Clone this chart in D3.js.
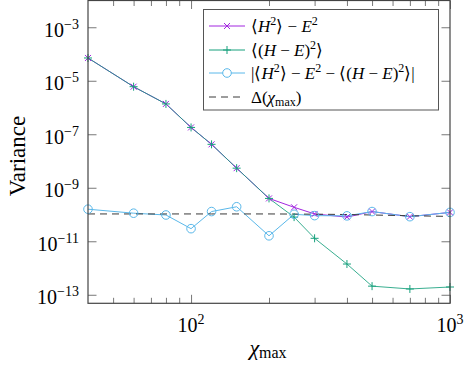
<!DOCTYPE html>
<html><head><meta charset="utf-8">
<script src="https://cdn.jsdelivr.net/npm/d3@7"></script>
<style>
body{margin:0;background:#fff}
svg{display:block}
</style>
</head><body>
<svg id="c" width="475" height="365"></svg>
<script>
// ---- data ----
const chi = [40, 60, 80, 100, 120, 150, 200, 250, 300, 400, 500, 700, 1000];
const varH2mE2 = [7.1e-5, 6.0e-6, 1.36e-6, 1.8e-7, 4.2e-8, 5.4e-9, 4.0e-10, 1.86e-10, 1.05e-10, 8.0e-11, 1.29e-10, 8.3e-11, 1.2e-10];
const varHmE2 = [7.1e-5, 6.0e-6, 1.36e-6, 1.8e-7, 4.2e-8, 5.4e-9, 4.0e-10, 8.0e-11, 1.29e-11, 1.41e-12, 2.1e-13, 1.65e-13, 1.95e-13];
const varDiff = [1.58e-10, 1.12e-10, 9.6e-11, 2.96e-11, 1.29e-10, 1.95e-10, 1.6e-11, 1.02e-10, 9.1e-11, 8.9e-11, 1.29e-10, 8.3e-11, 1.2e-10];
const delta = [1.05e-10, 1.05e-10, 1.05e-10, 1.05e-10, 1.05e-10, 1.05e-10, 1.05e-10, 1.04e-10, 1.03e-10, 1.0e-10, 9.6e-11, 9.0e-11, 8.5e-11];
const xMajor = [100, 1000];
const xMinor = [50, 60, 70, 80, 90, 200, 300, 400, 500, 600, 700, 800, 900];
const yMajor = [1e-13, 1e-11, 1e-9, 1e-7, 1e-5, 1e-3];
const xTickLabels = ["2", "3"];
const yTickLabels = ["−13", "−11", "−9", "−7", "−5", "−3"];

const colPurple = "#a226e0", colGreen = "#16a07c", colCyan = "#5ab8ea", colDash = "#3a3a3a";
const FONT = "'Liberation Serif', serif";

const L = 88, R = 450, T = 0.5, B = 303.3;
const x = d3.scaleLog().domain([40, 1000]).range([L, R]);
const y = d3.scaleLog().domain([4.8e-14, 1e-2]).range([B, T]);
const svg = d3.select("#c");

// ---- ticks (inward, all four sides) ----
function styleAxis(g) {
  g.select(".domain").remove();
  g.selectAll(".tick line").attr("stroke", "#555").attr("stroke-width", 0.8);
  g.selectAll(".tick text").remove();
}
const maj = 8.5, mnr = 5.5;
svg.append("g").attr("transform", `translate(0,${B})`).call(d3.axisBottom(x).tickValues(xMajor).tickSize(-maj)).call(styleAxis);
svg.append("g").attr("transform", `translate(0,${B})`).call(d3.axisBottom(x).tickValues(xMinor).tickSize(-mnr)).call(styleAxis);
svg.append("g").attr("transform", `translate(0,${T})`).call(d3.axisTop(x).tickValues(xMajor).tickSize(-maj)).call(styleAxis);
svg.append("g").attr("transform", `translate(0,${T})`).call(d3.axisTop(x).tickValues(xMinor).tickSize(-mnr)).call(styleAxis);
svg.append("g").attr("transform", `translate(${L},0)`).call(d3.axisLeft(y).tickValues(yMajor).tickSize(-maj)).call(styleAxis);
svg.append("g").attr("transform", `translate(${R},0)`).call(d3.axisRight(y).tickValues(yMajor).tickSize(-maj)).call(styleAxis);

function txt(sel) { return sel.append("text").attr("font-family", FONT).attr("fill", "#000"); }

// ---- tick labels ----
xMajor.forEach((v, i) => {
  const t = txt(svg).attr("x", x(v)).attr("y", 332).attr("text-anchor", "middle").attr("font-size", 20);
  t.append("tspan").text("10");
  t.append("tspan").attr("font-size", 14).attr("dy", -8).text(xTickLabels[i]);
});
yMajor.forEach((v, i) => {
  const t = txt(svg).attr("x", 79).attr("y", y(v) + 9.5).attr("text-anchor", "end").attr("font-size", 20);
  t.append("tspan").text("10");
  t.append("tspan").attr("font-size", 14).attr("dy", -8).text(yTickLabels[i]);
});

// ---- axis labels ----
const xl = txt(svg).attr("x", 268).attr("y", 355).attr("text-anchor", "middle").attr("font-size", 22);
xl.append("tspan").attr("font-style", "italic").text("χ");
xl.append("tspan").attr("font-size", 16).attr("dy", 3).text("max");
txt(svg).attr("transform", "translate(25,156) rotate(-90)").attr("text-anchor", "middle").attr("font-size", 23).text("Variance");

// ---- series ----
const line = d3.line().x(d => x(d[0])).y(d => y(d[1]));
const zip = vals => chi.map((c, i) => [c, vals[i]]);

function crossPath(s) { return `M${-s},${-s}L${s},${s}M${-s},${s}L${s},${-s}`; }
function plusPath(s) { return `M${-s},0L${s},0M0,${-s}L0,${s}`; }

svg.append("path").datum(zip(varH2mE2)).attr("d", line).attr("fill", "none").attr("stroke", colPurple).attr("stroke-width", 1);
svg.append("path").datum(zip(varHmE2)).attr("d", line).attr("fill", "none").attr("stroke", colGreen).attr("stroke-width", 1).attr("stroke-opacity", 0.85);
svg.append("path").datum(zip(varDiff)).attr("d", line).attr("fill", "none").attr("stroke", colCyan).attr("stroke-width", 1);
svg.append("path").datum(zip(delta)).attr("d", line).attr("fill", "none").attr("stroke", colDash).attr("stroke-width", 1).attr("stroke-dasharray", "7,5");

svg.append("g").selectAll("path").data(zip(varH2mE2)).join("path")
  .attr("transform", d => `translate(${x(d[0])},${y(d[1])})`).attr("d", crossPath(3))
  .attr("stroke", colPurple).attr("stroke-width", 1).attr("fill", "none");
svg.append("g").selectAll("path").data(zip(varHmE2)).join("path")
  .attr("transform", d => `translate(${x(d[0])},${y(d[1])})`).attr("d", plusPath(4))
  .attr("stroke", colGreen).attr("stroke-width", 1).attr("fill", "none");
svg.append("g").selectAll("circle").data(zip(varDiff)).join("circle")
  .attr("cx", d => x(d[0])).attr("cy", d => y(d[1])).attr("r", 4.3)
  .attr("stroke", colCyan).attr("stroke-width", 1).attr("fill", "none");

// ---- frame ----
svg.append("rect").attr("x", L).attr("y", T).attr("width", R - L).attr("height", B - T)
  .attr("fill", "none").attr("stroke", "#444").attr("stroke-width", 1.2);

// ---- legend ----
const lg = svg.append("g");
lg.append("rect").attr("x", 203.5).attr("y", 9.5).attr("width", 235).attr("height", 100.5)
  .attr("fill", "#fff").attr("stroke", "#555").attr("stroke-width", 1);
const rows = [26, 50, 73, 97];
const lx1 = 209, lx2 = 245, lm = 227, tx = 251, fs = 17, ss = 12;
lg.append("line").attr("x1", lx1).attr("x2", lx2).attr("y1", rows[0]).attr("y2", rows[0]).attr("stroke", colPurple);
lg.append("path").attr("transform", `translate(${lm},${rows[0]})`).attr("d", crossPath(3)).attr("stroke", colPurple).attr("fill", "none");
let t1 = txt(lg).attr("x", tx).attr("y", rows[0] + 5.5).attr("font-size", fs);
t1.append("tspan").text("⟨");
t1.append("tspan").attr("font-style", "italic").text("H");
t1.append("tspan").attr("font-size", ss).attr("dy", -7).text("2");
t1.append("tspan").attr("dy", 7).text("⟩ − ");
t1.append("tspan").attr("font-style", "italic").text("E");
t1.append("tspan").attr("font-size", ss).attr("dy", -7).text("2");

lg.append("line").attr("x1", lx1).attr("x2", lx2).attr("y1", rows[1]).attr("y2", rows[1]).attr("stroke", colGreen);
lg.append("path").attr("transform", `translate(${lm},${rows[1]})`).attr("d", plusPath(4)).attr("stroke", colGreen).attr("fill", "none");
let t2 = txt(lg).attr("x", tx).attr("y", rows[1] + 5.5).attr("font-size", fs);
t2.append("tspan").text("⟨(");
t2.append("tspan").attr("font-style", "italic").text("H");
t2.append("tspan").text(" − ");
t2.append("tspan").attr("font-style", "italic").text("E");
t2.append("tspan").text(")");
t2.append("tspan").attr("font-size", ss).attr("dy", -7).text("2");
t2.append("tspan").attr("dy", 7).text("⟩");

lg.append("line").attr("x1", lx1).attr("x2", lx2).attr("y1", rows[2]).attr("y2", rows[2]).attr("stroke", colCyan);
lg.append("circle").attr("cx", lm).attr("cy", rows[2]).attr("r", 4.3).attr("stroke", colCyan).attr("fill", "#fff");
let t3 = txt(lg).attr("x", tx).attr("y", rows[2] + 5.5).attr("font-size", fs);
t3.append("tspan").text("|⟨");
t3.append("tspan").attr("font-style", "italic").text("H");
t3.append("tspan").attr("font-size", ss).attr("dy", -7).text("2");
t3.append("tspan").attr("dy", 7).text("⟩ − ");
t3.append("tspan").attr("font-style", "italic").text("E");
t3.append("tspan").attr("font-size", ss).attr("dy", -7).text("2");
t3.append("tspan").attr("dy", 7).text(" − ⟨(");
t3.append("tspan").attr("font-style", "italic").text("H");
t3.append("tspan").text(" − ");
t3.append("tspan").attr("font-style", "italic").text("E");
t3.append("tspan").text(")");
t3.append("tspan").attr("font-size", ss).attr("dy", -7).text("2");
t3.append("tspan").attr("dy", 7).text("⟩|");

lg.append("line").attr("x1", lx1).attr("x2", lx2).attr("y1", rows[3]).attr("y2", rows[3]).attr("stroke", colDash).attr("stroke-dasharray", "7,5");
let t4 = txt(lg).attr("x", tx).attr("y", rows[3] + 5.5).attr("font-size", fs);
t4.append("tspan").text("Δ(");
t4.append("tspan").attr("font-style", "italic").text("χ");
t4.append("tspan").attr("font-size", ss).attr("dy", 3).text("max");
t4.append("tspan").attr("dy", -3).text(")");
</script>
</body></html>
